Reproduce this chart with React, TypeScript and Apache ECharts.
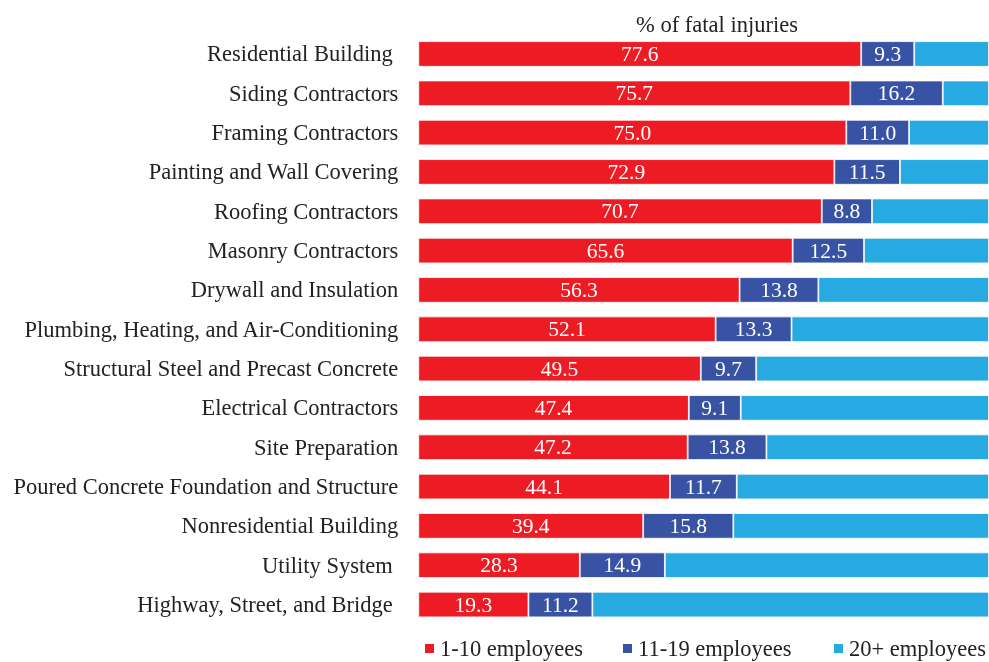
import React, { useEffect, useRef } from "react";
import * as echarts from "echarts";

const categories = [
  "Residential Building ",
  "Siding Contractors",
  "Framing Contractors",
  "Painting and Wall Covering",
  "Roofing Contractors",
  "Masonry Contractors",
  "Drywall and Insulation",
  "Plumbing, Heating, and Air-Conditioning",
  "Structural Steel and Precast Concrete",
  "Electrical Contractors",
  "Site Preparation",
  "Poured Concrete Foundation and Structure",
  "Nonresidential Building",
  "Utility System ",
  "Highway, Street, and Bridge ",
];
const seriesNames = ["1-10 employees", "11-19 employees", "20+ employees"];
const small = [77.6, 75.7, 75.0, 72.9, 70.7, 65.6, 56.3, 52.1, 49.5, 47.4, 47.2, 44.1, 39.4, 28.3, 19.3];
const medium = [9.3, 16.2, 11.0, 11.5, 8.8, 12.5, 13.8, 13.3, 9.7, 9.1, 13.8, 11.7, 15.8, 14.9, 11.2];
const large = small.map((s, i) => Math.round((100 - s - medium[i]) * 10) / 10);

const FONT = "Liberation Serif";
const COLORS = ["#ED1C24", "#3953A4", "#27AAE1"];
const LEGEND_LEFT = [423, 621, 832];

export default function App() {
  const ref = useRef<HTMLDivElement>(null);
  useEffect(() => {
    const chart = echarts.init(ref.current!, null, { renderer: "svg" });
    const label = {
      show: true,
      position: "inside",
      color: "#fff",
      fontFamily: FONT,
      fontSize: 21.5,
      formatter: (p: any) => Number(p.value).toFixed(1),
    };
    const datasets = [small, medium, large];
    chart.setOption({
      animation: false,
      title: {
        text: "% of fatal injuries",
        left: 712,
        textAlign: "center",
        top: 8,
        textStyle: { fontFamily: FONT, fontSize: 22.5, fontWeight: "normal", color: "#222" },
      },
      legend: seriesNames.map((n, i) => ({
        data: [n],
        left: LEGEND_LEFT[i],
        top: 637,
        padding: 0,
        itemWidth: 11,
        itemHeight: 11,
        icon: "rect",
        textStyle: { fontFamily: FONT, fontSize: 22.5, color: "#222" },
      })),
      grid: { left: 418.3, right: -3.3, top: 34.3, bottom: 37.8, containLabel: false },
      xAxis: {
        type: "value",
        min: 0,
        max: 100,
        show: false,
      },
      yAxis: {
        type: "category",
        data: categories,
        inverse: true,
        axisLine: { show: false },
        axisTick: { show: false },
        axisLabel: { fontFamily: FONT, fontSize: 22.5, color: "#222", margin: 20 },
      },
      series: seriesNames.map((n, i) => ({
        name: n,
        type: "bar",
        stack: "total",
        data: datasets[i],
        color: COLORS[i],
        barCategoryGap: "35%",
        itemStyle: { borderColor: "#fff", borderWidth: 0.8 },
        label: i === 2 ? { show: false } : label,
      })),
    });
    return () => chart.dispose();
  }, []);
  return <div ref={ref} style={{ position: "fixed", left: 0, top: 0, width: 989, height: 662 }} />;
}
